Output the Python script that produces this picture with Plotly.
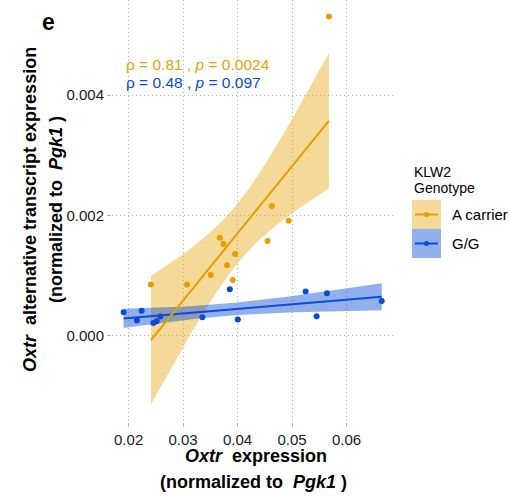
import numpy as np
import plotly.graph_objects as go

# ---- data ----
a_x = [0.0241, 0.03072, 0.03507, 0.03673, 0.0374, 0.03807, 0.03912, 0.03955, 0.0455, 0.04629, 0.04936, 0.05676]
a_y = [0.000852, 0.000852, 0.001012, 0.001632, 0.001527, 0.001173, 0.000929, 0.001361, 0.001577, 0.002158, 0.001914, 0.005306]
g_x = [0.01908, 0.02153, 0.02239, 0.02454, 0.02515, 0.02582, 0.03354, 0.03857, 0.04004, 0.05248, 0.05450, 0.05640, 0.06645]
g_y = [0.000393, 0.000254, 0.000420, 0.000216, 0.000243, 0.000321, 0.000310, 0.000775, 0.000271, 0.000736, 0.000326, 0.000708, 0.000581]
groups = ["A carrier", "G/G"]
stat_labels = ["ρ = 0.81 , <i>p</i> = 0.0024", "ρ = 0.48 , <i>p</i> = 0.097"]
x_ticks = [0.02, 0.03, 0.04, 0.05, 0.06]
x_ticklabels = ["0.02", "0.03", "0.04", "0.05", "0.06"]
y_ticks = [0.0, 0.002, 0.004]
y_ticklabels = ["0.000", "0.002", "0.004"]

ORANGE = "#E69F00"
BLUE = "#0A4BD8"
ORANGE_FILL = "rgba(230,159,0,0.40)"
BLUE_FILL = "rgba(10,75,216,0.45)"

# t quantiles (0.975) for the 95% CI of the linear fit
T975 = {10: 2.228139, 11: 2.200985}


def lm_band(x, y, n_pts=80):
    x = np.asarray(x, float)
    y = np.asarray(y, float)
    n = len(x)
    b, a = np.polyfit(x, y, 1)
    xs = np.linspace(x.min(), x.max(), n_pts)
    fit = a + b * xs
    resid = y - (a + b * x)
    s = np.sqrt(np.sum(resid ** 2) / (n - 2))
    sxx = np.sum((x - x.mean()) ** 2)
    se = s * np.sqrt(1.0 / n + (xs - x.mean()) ** 2 / sxx)
    t = T975.get(n - 2, 2.2)
    return xs, fit, fit - t * se, fit + t * se


fig = go.Figure()
series = [(a_x, a_y, ORANGE, ORANGE_FILL), (g_x, g_y, BLUE, BLUE_FILL)]
bands = [lm_band(x, y) for (x, y, c, f) in series]

# ribbons
for (x, y, col, fcol), (xs, fit, lo, hi) in zip(series, bands):
    fig.add_trace(go.Scatter(x=list(xs) + list(xs[::-1]), y=list(hi) + list(lo[::-1]),
                             fill="toself", fillcolor=fcol, line=dict(width=0),
                             mode="lines", hoverinfo="skip", showlegend=False))
# fit lines
for (x, y, col, fcol), (xs, fit, lo, hi) in list(zip(series, bands))[::-1]:
    fig.add_trace(go.Scatter(x=xs, y=fit, mode="lines", line=dict(color=col, width=2),
                             showlegend=False, hoverinfo="skip"))
# points
for (x, y, col, fcol), name in zip(series, groups):
    fig.add_trace(go.Scatter(x=x, y=y, mode="markers", marker=dict(color=col, size=6),
                             name=name, showlegend=False))

W, H = 510, 496
L, R, T, B = 112, 116, 0, 74

def px(x):
    return (x - L) / (W - L - R)

def py(y):
    return (H - B - y) / (H - T - B)

FONT = "Liberation Sans, Arial, sans-serif"
TS = 18

annotations = [
    dict(text=stat_labels[0], x=px(124), y=py(64), xref="paper", yref="paper",
         xanchor="left", yanchor="middle", showarrow=False, font=dict(size=15.5, color=ORANGE)),
    dict(text=stat_labels[1], x=px(124), y=py(82), xref="paper", yref="paper",
         xanchor="left", yanchor="middle", showarrow=False, font=dict(size=15.5, color=BLUE)),
    dict(text="<b>e</b>", x=px(48), y=py(22), xref="paper", yref="paper",
         xanchor="center", yanchor="middle", showarrow=False, font=dict(size=23, color="black")),
    dict(text="<b><i>Oxtr</i>  expression</b>", x=px(256), y=py(456), xref="paper", yref="paper",
         xanchor="center", yanchor="middle", showarrow=False, font=dict(size=TS, color="black")),
    dict(text="<b>(normalized to  <i>Pgk1</i> )</b>", x=px(253), y=py(482), xref="paper", yref="paper",
         xanchor="center", yanchor="middle", showarrow=False, font=dict(size=TS, color="black")),
    dict(text="<b><i>Oxtr</i>  alternative transcript expression</b>", x=px(30), y=py(210),
         xref="paper", yref="paper", xanchor="center", yanchor="middle", textangle=-90,
         showarrow=False, font=dict(size=TS, color="black")),
    dict(text="<b>(normalized to  <i>Pgk1</i> )</b>", x=px(56), y=py(210),
         xref="paper", yref="paper", xanchor="center", yanchor="middle", textangle=-90,
         showarrow=False, font=dict(size=TS, color="black")),
    dict(text="KLW2", x=px(412), y=py(172), xref="paper", yref="paper",
         xanchor="left", yanchor="middle", showarrow=False, font=dict(size=14, color="black")),
    dict(text="Genotype", x=px(412), y=py(188), xref="paper", yref="paper",
         xanchor="left", yanchor="middle", showarrow=False, font=dict(size=14, color="black")),
]

shapes = []
leg = [(groups[0], ORANGE, ORANGE_FILL, 200), (groups[1], BLUE, BLUE_FILL, 229)]
for name, col, fcol, top in leg:
    shapes.append(dict(type="rect", xref="paper", yref="paper", x0=px(412), x1=px(441),
                       y0=py(top), y1=py(top + 29), fillcolor=fcol, line=dict(width=0)))
    shapes.append(dict(type="line", xref="paper", yref="paper", x0=px(415), x1=px(438),
                       y0=py(top + 14.5), y1=py(top + 14.5), line=dict(color=col, width=2)))
    shapes.append(dict(type="circle", xref="paper", yref="paper", x0=px(424), x1=px(429),
                       y0=py(top + 12), y1=py(top + 17), fillcolor=col, line=dict(width=0)))
    annotations.append(dict(text=name, x=px(450), y=py(top + 14.5), xref="paper", yref="paper",
                            xanchor="left", yanchor="middle", showarrow=False,
                            font=dict(size=15, color="black")))

fig.update_layout(
    width=W, height=H,
    margin=dict(l=L, r=R, t=T, b=B),
    plot_bgcolor="white", paper_bgcolor="white",
    font=dict(family=FONT, color="black"),
    showlegend=False,
    annotations=annotations,
    shapes=shapes,
)
GRID = dict(showgrid=True, gridcolor="#b3b3b3", griddash="1px,3px", gridwidth=1,
            zeroline=False, showline=False, ticks="outside", ticklen=4,
            tickcolor="#b3b3b3", tickfont=dict(size=15, color="#1a1a1a"))
fig.update_xaxes(range=[0.01695, 0.0687], tickvals=x_ticks, ticktext=x_ticklabels, **GRID)
fig.update_yaxes(range=[-0.00143, 0.00558], tickvals=y_ticks, ticktext=y_ticklabels, **GRID)

fig.write_html("out.html", config={"displayModeBar": False},
               post_script="document.body.style.margin='0';document.body.style.padding='0';")
